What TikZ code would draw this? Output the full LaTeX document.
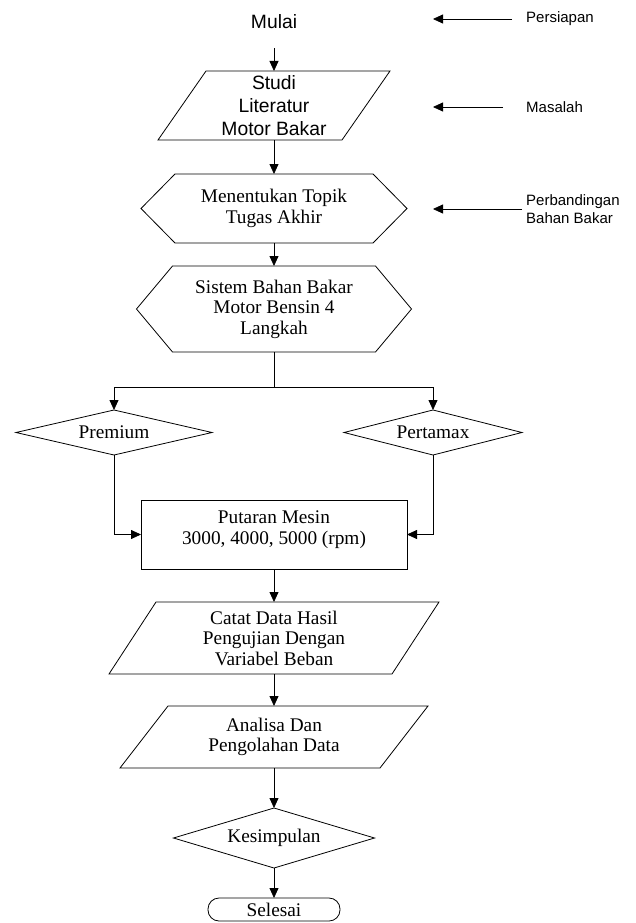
\documentclass[tikz,border=0pt]{standalone}
\usepackage{fontspec}
\setmainfont{Liberation Serif}
\setsansfont{Liberation Sans}
\usetikzlibrary{arrows.meta}
\begin{document}
\begin{tikzpicture}[x=1pt,y=-1pt,
  ln/.style={line width=0.8pt, draw=black},
  arr/.style={line width=0.8pt, draw=black, -{Triangle[length=10pt,width=9pt]}},
  frame/.style={inner sep=0pt, outer sep=0pt, align=center},
  sertxt/.style={font=\fontsize{19.3}{20.5}\selectfont},
  santxt/.style={font=\sffamily\fontsize{19.3}{23}\selectfont},
  sidetxt/.style={font=\sffamily\fontsize{15}{18}\selectfont, inner sep=0pt, anchor=west, align=left},
]
\useasboundingbox (0,0) rectangle (635,923);

% side labels
\node[sidetxt] (persiapan) at (526,19) {Persiapan};
\node[sidetxt] (masalah) at (526,107) {Masalah};
\node[sidetxt] (perbandingan) at (526,209) {Perbandingan\\Bahan Bakar};
\coordinate (c1) at (433,19);
\coordinate (c2) at (433,107);
\coordinate (c3) at (433,209);
\draw[arr, shorten <=14pt] (persiapan.west) -- (c1);
\draw[arr, shorten <=23pt] (masalah.west) -- (c2);
\draw[arr, shorten <=4pt] (perbandingan.west) -- (c3);

% main column
\node[frame, santxt] (mulai) at (274,22) {Mulai};
\node[frame, santxt, minimum width=232pt, minimum height=69pt] (studi) at (274,105.5) {Studi\\Literatur\\Motor Bakar};
\node[frame, sertxt, minimum width=266pt, minimum height=69pt] (hex1) at (274,208.5) {Menentukan Topik\\Tugas Akhir};
\node[frame, sertxt, minimum width=275pt, minimum height=86pt] (hex2) at (274,309) {Sistem Bahan Bakar\\Motor Bensin 4\\Langkah};
\node[frame, sertxt, minimum width=196pt, minimum height=45pt] (premium) at (114,432.5) {Premium};
\node[frame, sertxt, minimum width=178pt, minimum height=45pt] (pertamax) at (433,432.5) {Pertamax};
\node[frame, ln, minimum width=266pt, minimum height=69pt] (putaran) at (274,534.5) {};
\node[frame, sertxt] (putarantxt) at (274,529.5) {Putaran Mesin\\3000, 4000, 5000 (rpm)};
\node[frame, sertxt, minimum width=330pt, minimum height=72pt] (catat) at (274,638) {Catat Data Hasil\\Pengujian Dengan\\Variabel Beban};
\node[frame, sertxt, minimum width=308pt, minimum height=62pt] (analisa) at (274,737) {Analisa Dan\\Pengolahan Data};
\node[frame, sertxt, minimum width=201pt, minimum height=60pt] (kesimpulan) at (274,838) {Kesimpulan};
\node[frame, sertxt, ln, rounded corners=11pt, minimum width=132pt, minimum height=23pt] (selesai) at (274,909.5) {Selesai};

% outlines
\draw[ln] ([xshift=48pt]studi.north west) -- (studi.north east) -- ([xshift=-48pt]studi.south east) -- (studi.south west) -- cycle;
\draw[ln] (hex1.west) -- ([xshift=34pt]hex1.north west) -- ([xshift=-34pt]hex1.north east) -- (hex1.east) -- ([xshift=-34pt]hex1.south east) -- ([xshift=34pt]hex1.south west) -- cycle;
\draw[ln] (hex2.west) -- ([xshift=36pt]hex2.north west) -- ([xshift=-36pt]hex2.north east) -- (hex2.east) -- ([xshift=-36pt]hex2.south east) -- ([xshift=36pt]hex2.south west) -- cycle;
\draw[ln] (premium.west) -- (premium.north) -- (premium.east) -- (premium.south) -- cycle;
\draw[ln] (pertamax.west) -- (pertamax.north) -- (pertamax.east) -- (pertamax.south) -- cycle;
\draw[ln] ([xshift=47pt]catat.north west) -- (catat.north east) -- ([xshift=-47pt]catat.south east) -- (catat.south west) -- cycle;
\draw[ln] ([xshift=48pt]analisa.north west) -- (analisa.north east) -- ([xshift=-48pt]analisa.south east) -- (analisa.south west) -- cycle;
\draw[ln] (kesimpulan.west) -- (kesimpulan.north) -- (kesimpulan.east) -- (kesimpulan.south) -- cycle;

% connectors
\draw[arr, shorten <=19pt] (mulai) -- (studi);
\draw[arr] (studi) -- (hex1);
\draw[arr] (hex1) -- (hex2);
\coordinate (branch) at (274,387);
\draw[ln] (hex2) -- (branch);
\draw[arr] (branch) -| (premium.north);
\draw[arr] (branch) -| (pertamax.north);
\draw[arr] (premium.south) |- (putaran.west);
\draw[arr] (pertamax.south) |- (putaran.east);
\draw[arr] (putaran) -- (catat);
\draw[arr] (catat) -- (analisa);
\draw[arr] (analisa) -- (kesimpulan);
\draw[arr] (kesimpulan) -- (selesai);
\end{tikzpicture}
\end{document}
